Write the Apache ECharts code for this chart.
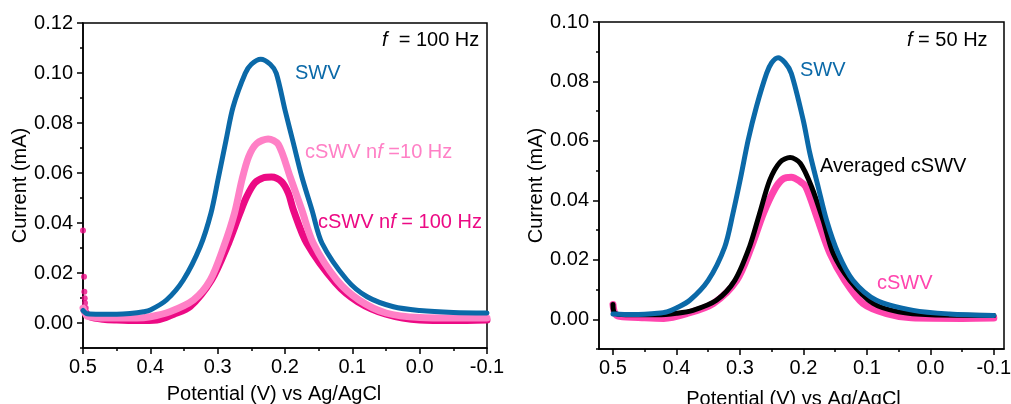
<!DOCTYPE html>
<html>
<head>
<meta charset="utf-8">
<script src="https://cdn.jsdelivr.net/npm/echarts@6/dist/echarts.min.js"></script>
<style>
  html, body { margin: 0; padding: 0; background: #fff; }
  #main { width: 1011px; height: 404px; }
</style>
</head>
<body>
<div id="main"></div>
<script>
// values: [potential (V), current (mA)]
const swv100 = [
  [0.5, 0.005], [0.495, 0.0038], [0.49, 0.0036], [0.47, 0.0035], [0.45, 0.0035],
  [0.43, 0.0038], [0.41, 0.0045], [0.40, 0.0052], [0.376, 0.0092], [0.351, 0.0172],
  [0.326, 0.0305], [0.31, 0.0439], [0.299, 0.058], [0.2875, 0.0732], [0.277, 0.0865],
  [0.259, 0.0999], [0.25, 0.1035], [0.236, 0.1055], [0.222, 0.1035], [0.213, 0.0999],
  [0.2, 0.0852], [0.1875, 0.0719], [0.175, 0.0585], [0.16, 0.0452], [0.145, 0.0319],
  [0.108, 0.0172], [0.078, 0.0105], [0.039, 0.0065], [0.0, 0.005], [-0.05, 0.0042],
  [-0.1, 0.004]
];
const cswv10 = [
  [0.5, 0.006], [0.495, 0.003], [0.49, 0.0025], [0.47, 0.002], [0.45, 0.002],
  [0.42, 0.002], [0.40, 0.0025], [0.371, 0.0045], [0.336, 0.0092], [0.311, 0.0172],
  [0.291, 0.0305], [0.275, 0.0439], [0.264, 0.0572], [0.254, 0.0665], [0.242, 0.0718],
  [0.225, 0.0736], [0.21, 0.0715], [0.1924, 0.0585], [0.175, 0.0452], [0.158, 0.0319],
  [0.123, 0.0172], [0.09, 0.0092], [0.05, 0.004], [0.0, 0.0022], [-0.05, 0.002],
  [-0.1, 0.002]
];
const cswv100 = [
  [0.495, 0.004], [0.49, 0.0025], [0.47, 0.0015], [0.45, 0.0012], [0.42, 0.001],
  [0.39, 0.0012], [0.365, 0.0035], [0.341, 0.0065], [0.309, 0.0172], [0.286, 0.0305],
  [0.267, 0.0439], [0.257, 0.0505], [0.245, 0.056], [0.232, 0.0581], [0.22, 0.0584],
  [0.205, 0.0565], [0.195, 0.0519], [0.1875, 0.0452], [0.1676, 0.0319], [0.125, 0.016],
  [0.092, 0.0085], [0.05, 0.0035], [0.0, 0.0012], [-0.05, 0.001], [-0.1, 0.0012]
];
const cswv100Spike = [
  [0.5, 0.037], [0.4985, 0.0185], [0.498, 0.0125], [0.4975, 0.0099], [0.497, 0.008], [0.496, 0.006]
];

const swv50 = [
  [0.5, 0.0018], [0.47, 0.0016], [0.45, 0.0017], [0.43, 0.002], [0.415, 0.0025],
  [0.40, 0.0038], [0.379, 0.0064], [0.35, 0.0131], [0.324, 0.0243], [0.311, 0.0356],
  [0.299, 0.0475], [0.287, 0.0603], [0.274, 0.0715], [0.258, 0.0827], [0.25, 0.0863],
  [0.24, 0.088], [0.229, 0.0863], [0.219, 0.0827], [0.2003, 0.067], [0.1898, 0.0558],
  [0.1767, 0.0445], [0.1635, 0.0333], [0.1452, 0.0221], [0.122, 0.0131], [0.085, 0.0064],
  [0.027, 0.003], [-0.03, 0.0018], [-0.1, 0.0013]
];
const avg50 = [
  [0.5, 0.005], [0.497, 0.002], [0.48, 0.0015], [0.43, 0.0015], [0.40, 0.002],
  [0.374, 0.003], [0.337, 0.0064], [0.308, 0.0131], [0.285, 0.0243], [0.269, 0.0356],
  [0.253, 0.0468], [0.237, 0.0528], [0.221, 0.0544], [0.205, 0.0525], [0.187, 0.0445],
  [0.169, 0.0333], [0.153, 0.0221], [0.127, 0.0131], [0.09, 0.0053], [0.05, 0.0025],
  [0.0, 0.0015], [-0.1, 0.0013]
];
const cswv50 = [
  [0.5, 0.005], [0.497, 0.002], [0.49, 0.001], [0.45, 0.0005], [0.42, 0.0003],
  [0.384, 0.0019], [0.342, 0.0053], [0.305, 0.0131], [0.282, 0.0243], [0.263, 0.0356],
  [0.245, 0.0438], [0.232, 0.0472], [0.219, 0.0478], [0.206, 0.0465], [0.196, 0.0445],
  [0.177, 0.0333], [0.158, 0.0221], [0.135, 0.0131], [0.106, 0.0053], [0.069, 0.0019],
  [0.03, 0.0005], [-0.05, 0.0003], [-0.1, 0.0004]
];

const xMajor = [0.5, 0.4, 0.3, 0.2, 0.1, 0.0, -0.1];
const xMinor = [0.45, 0.35, 0.25, 0.15, 0.05, -0.05];
const yMajorL = [0, 0.02, 0.04, 0.06, 0.08, 0.10, 0.12];
const yMinorL = [-0.01, 0.01, 0.03, 0.05, 0.07, 0.09, 0.11];
const yMajorR = [0, 0.02, 0.04, 0.06, 0.08, 0.10];
const yMinorR = [-0.01, 0.01, 0.03, 0.05, 0.07, 0.09];

const FONT = 'Liberation Sans, Arial, sans-serif';
const BLUE = '#0b69a8';
const PINK_L = '#ff80c6';
const PINK_D = '#ec0a84';
const PINK_R = '#ff45ae';

const chart = echarts.init(document.getElementById('main'));

const axisLine = { show: true, onZero: false, lineStyle: { color: '#000', width: 1.5 } };
const txt = { color: '#000', fontSize: 20, fontFamily: FONT };

function xAxes(grid, min, max, nameShift, nameGap) {
  return [{
    type: 'value', gridIndex: grid, position: 'bottom', inverse: true, min: min, max: max,
    axisLine: axisLine,
    axisTick: { customValues: xMajor, length: 6, lineStyle: { color: '#000', width: 1.5 } },
    axisLabel: Object.assign({ customValues: xMajor, margin: 9, formatter: v => v.toFixed(1) }, txt),
    splitLine: { show: false },
    name: 'Potential (V) vs Ag/AgCl', nameLocation: 'middle', nameGap: nameGap,
    nameTextStyle: Object.assign({ padding: [0, nameShift, 0, 0] }, txt)
  }, {
    type: 'value', gridIndex: grid, position: 'bottom', inverse: true, min: min, max: max,
    axisLine: { show: false, onZero: false },
    axisTick: { customValues: xMinor, length: 3, lineStyle: { color: '#000', width: 1.5 } },
    axisLabel: { show: false }, splitLine: { show: false }
  }];
}
function yAxes(grid, max, major, minor) {
  return [{
    type: 'value', gridIndex: grid, position: 'left', min: -0.01, max: max,
    axisLine: axisLine,
    axisTick: { customValues: major, length: 6, lineStyle: { color: '#000', width: 1.5 } },
    axisLabel: Object.assign({ customValues: major, margin: 10, formatter: v => v.toFixed(2) }, txt),
    splitLine: { show: false },
    name: 'Current (mA)', nameLocation: 'middle', nameGap: 53,
    nameTextStyle: txt
  }, {
    type: 'value', gridIndex: grid, position: 'left', min: -0.01, max: max,
    axisLine: { show: false, onZero: false },
    axisTick: { customValues: minor, length: 3, lineStyle: { color: '#000', width: 1.5 } },
    axisLabel: { show: false }, splitLine: { show: false }
  }];
}

function line(name, data, color, width, xi, yi, z) {
  return {
    name: name, type: 'line', data: data, xAxisIndex: xi, yAxisIndex: yi,
    smooth: 0.3, showSymbol: false, z: z,
    lineStyle: { color: color, width: width, cap: 'round', join: 'round' }
  };
}

function label(text, left, top, color) {
  return {
    type: 'text', left: left, top: top,
    style: {
      text: text, fill: color, font: '20px ' + FONT,
      rich: { i: { fontStyle: 'italic', fontSize: 20, fontFamily: FONT, fill: color } }
    }
  };
}

const option = {
  animation: false,
  backgroundColor: '#fff',
  grid: [
    { left: 83, top: 23, width: 404, height: 325, show: true, borderColor: '#000', borderWidth: 1.5,
      outerBoundsMode: 'none', containLabel: false },
    { left: 599, top: 22, width: 405, height: 327, show: true, borderColor: '#000', borderWidth: 1.5,
      outerBoundsMode: 'none', containLabel: false }
  ],
  xAxis: [].concat(xAxes(0, -0.1, 0.5, 22, 36), xAxes(1, -0.116, 0.522, 16, 40)),
  yAxis: [].concat(yAxes(0, 0.12, yMajorL, yMinorL), yAxes(1, 0.10, yMajorR, yMinorR)),
  series: [
    line('cSWV nf = 100 Hz', cswv100, PINK_D, 7, 0, 0, 1),
    {
      name: 'spike', type: 'scatter', data: cswv100Spike, xAxisIndex: 0, yAxisIndex: 0,
      symbolSize: 6, itemStyle: { color: PINK_D }, z: 1
    },
    line('cSWV nf =10 Hz', cswv10, PINK_L, 7, 0, 0, 2),
    line('SWV', swv100, BLUE, 5, 0, 0, 3),
    line('cSWV', cswv50, PINK_R, 7, 2, 2, 1),
    line('Averaged cSWV', avg50, '#000', 5, 2, 2, 2),
    line('SWV 50', swv50, BLUE, 5, 2, 2, 3)
  ],
  graphic: [
    label('{i|f}  = 100 Hz', 382, 30, '#000'),
    label('SWV', 295, 63, BLUE),
    label('cSWV n{i|f} =10 Hz', 305, 142, PINK_L),
    label('cSWV n{i|f} = 100 Hz', 318, 212, PINK_D),
    label('{i|f} = 50 Hz', 907, 30, '#000'),
    label('SWV', 800, 60, BLUE),
    label('Averaged cSWV', 820, 156, '#000'),
    label('cSWV', 877, 273, PINK_R)
  ]
};

chart.setOption(option);
</script>
</body>
</html>
